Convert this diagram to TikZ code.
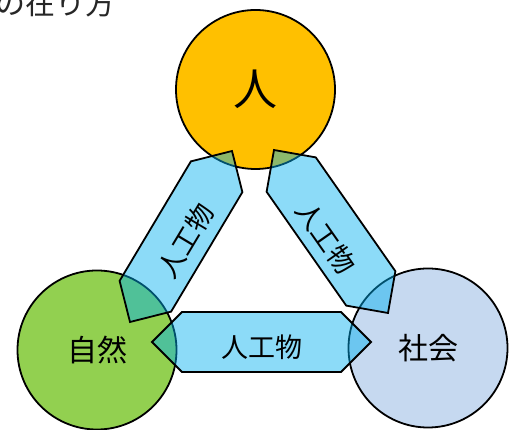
\documentclass[tikz,border=0pt]{standalone}
\usepackage{fontspec}
\newfontfamily\jp{Noto Sans CJK JP}
\usetikzlibrary{calc}
\definecolor{cOrange}{RGB}{255,192,0}
\definecolor{cGreen}{RGB}{146,208,80}
\definecolor{cSky}{RGB}{198,217,240}
\definecolor{cBand}{RGB}{0,176,240}
\newcommand\mkband[3]{%
  \coordinate (#1a) at ($(#2)!30pt!(#3)$);
  \coordinate (#1b) at ($(#3)!30pt!(#2)$);
  \draw[band] (#2) -- ($(#1a)!30pt!90:(#3)$) -- ($(#1b)!30pt!-90:(#2)$) -- (#3)
     -- ($(#1b)!30pt!90:(#2)$) -- ($(#1a)!30pt!-90:(#3)$) -- cycle;
}
\begin{document}
\begin{tikzpicture}[x=1pt,y=-1pt,
  circ/.style={circle,draw=black,line width=1.8pt,minimum size=159pt,inner sep=0pt,
    font=\jp\fontsize{30}{30}\selectfont},
  band/.style={draw=black,line width=1.8pt,fill=cBand,fill opacity=0.45,line join=miter},
  bandtext/.style={font=\jp\fontsize{27}{27}\selectfont,inner sep=0pt}]
\useasboundingbox (0,0) rectangle (515,430);
\clip (0,0) rectangle (515,430);
\node[anchor=base west,inner sep=0pt,font=\jp\fontsize{30}{30}\selectfont,text=black!85] (title) at (-5,15) {の在り方};
\node[circ,fill=cOrange,font=\jp\fontsize{44}{44}\selectfont] (hito) at (255.5,89.5) {人};
\node[circ,fill=cGreen] (shizen) at (97,350) {自然};
\node[circ,fill=cSky] (shakai) at (428,348) {社会};
\coordinate (L1) at (130,322);
\coordinate (L2) at (232,151);
\coordinate (R1) at (274,150);
\coordinate (R2) at (388,313);
\coordinate (B1) at (152,342);
\coordinate (B2) at (371,342);
\mkband{lb}{L1}{L2}
\mkband{rb}{R1}{R2}
\mkband{bb}{B1}{B2}
\node[bandtext,rotate=59] (ltext) at (186,241) {人工物};
\node[bandtext,rotate=-55] (rtext) at (326,238) {人工物};
\node[bandtext] (btext) at (262,347) {人工物};
\end{tikzpicture}
\end{document}
